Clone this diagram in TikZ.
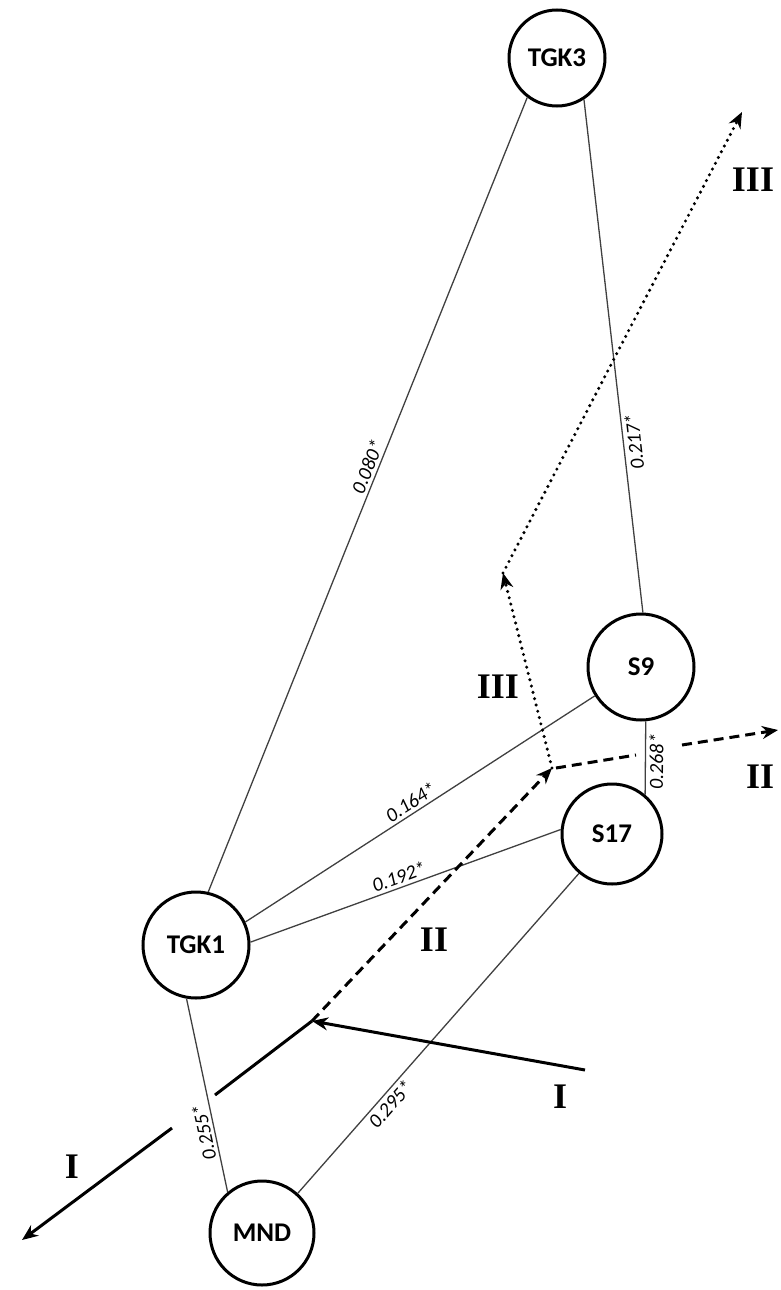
\documentclass[tikz,border=0pt]{standalone}
\usepackage{fontspec}
\setmainfont{Carlito}
\newfontfamily\numeralfont{Liberation Serif}
\usetikzlibrary{arrows.meta}

\tikzset{
  station/.style={circle, draw, line width=3pt, minimum size=#1, inner sep=0pt,
    font=\bfseries\fontsize{27}{29}\selectfont},
  link/.style={draw=black!75, line width=1.3pt},
  coef/.style={font=\itshape\fontsize{20}{22}\selectfont, sloped, allow upside down, inner sep=3pt},
  flow/.style={line width=3pt, -{Stealth[length=16pt,width=13pt]}},
  flowdash/.style={flow, dash pattern=on 10pt off 6pt},
  flowdot/.style={flow, line width=3.4pt, line cap=round, dash pattern=on 0pt off 6.5pt},
  numeral/.style={font=\numeralfont\bfseries\fontsize{36}{40}\selectfont}
}

\begin{document}
\begin{tikzpicture}[x=1pt, y=-1pt]
  \useasboundingbox (0,0) rectangle (780,1290);

  % stations
  \node[station=96pt] (tgk3) at (557,58) {TGK3};
  \node[station=106pt] (s9) at (641,667) {S9};
  \node[station=100pt] (s17) at (612,834) {S17};
  \node[station=106pt] (tgk1) at (196,945) {TGK1};
  \node[station=104pt] (mnd) at (262,1233) {MND};

  % correlations
  \draw[link] (tgk1.77) -- node[coef, above, pos=0.53] {0.080*} (tgk3.-127);
  \draw[link] (s9.88) -- node[coef, below, pos=0.33] {0.217*} (tgk3.-57);
  \draw[link] (tgk1.25) -- node[coef, above, pos=0.49] {0.164*} (s9.212);
  \draw[link] (tgk1.3) -- node[coef, above, pos=0.49] {0.192*} (s17.175);
  \draw[link] (s17.50) -- node[coef, below, pos=0.45] {0.268*} (s9.-85);
  \draw[link] (mnd.130) -- node[coef, above, pos=0.32] {0.255*} (tgk1.-100);
  \draw[link] (mnd.48) -- node[coef, below, pos=0.3] {0.295*} (s17.-130);

  % axes
  \coordinate (istart) at (585,1070);
  \coordinate (hinge) at (312,1021);
  \coordinate (ibreak) at (215,1095);
  \coordinate (iresume) at (172,1128);
  \coordinate (iend) at (22,1240);
  \coordinate (fork) at (552,768);
  \coordinate (iigapa) at (636,755);
  \coordinate (iigapb) at (682,745);
  \coordinate (iiend) at (778,730);
  \coordinate (iiitip) at (503,573);
  \coordinate (iiiend) at (742,112);

  \draw[flow] (istart) -- (hinge);
  \draw[line width=3pt] (hinge) -- (ibreak);
  \draw[flow] (iresume) -- (iend);
  \draw[flowdash] (hinge) -- (fork);
  \draw[line width=3pt, dash pattern=on 10pt off 6pt] ([xshift=4pt]fork) -- (iigapa);
  \draw[flowdash] (iigapb) -- (iiend);
  \draw[flowdot] (fork) -- (iiitip);
  \draw[flowdot] (iiitip) -- (iiiend);

  \node[numeral] (lbliiitop) at (753,180) {III};
  \node[numeral] (lbliiimid) at (498,687) {III};
  \node[numeral] (lbliiright) at (760,777) {II};
  \node[numeral] (lbliimid) at (434,940) {II};
  \node[numeral] (lbliright) at (560,1097) {I};
  \node[numeral] (lblileft) at (72,1167) {I};
\end{tikzpicture}
\end{document}
